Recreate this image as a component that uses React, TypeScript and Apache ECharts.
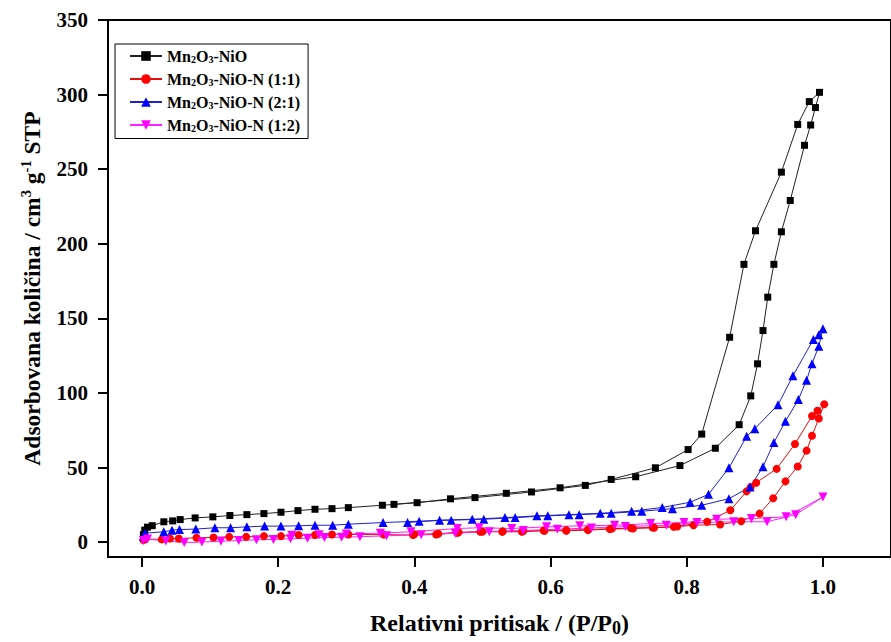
import React, { useEffect, useRef } from 'react';
import * as echarts from 'echarts';

const FONT = "'Liberation Serif', 'Times New Roman', serif";

const seriesNames = ['Mn2O3-NiO', 'Mn2O3-NiO-N (1:1)', 'Mn2O3-NiO-N (2:1)', 'Mn2O3-NiO-N (1:2)'];
const xTicks = [0, 0.2, 0.4, 0.6, 0.8, 1.0];
const yTicks = [0, 50, 100, 150, 200, 250, 300, 350];

// Mn2O3-NiO (adsorption then desorption)
const blackAds = [[0.002,5],[0.004,8],[0.008,10],[0.015,11],[0.032,13.6],[0.045,14.2],[0.056,15.1],[0.078,16.2],[0.104,16.9],[0.129,17.8],[0.154,18.4],[0.179,19.1],[0.204,20],[0.229,21.1],[0.254,22],[0.279,22.4],[0.303,23.1],[0.353,24.7],[0.404,26.4],[0.453,29],[0.535,32.7],[0.614,36.4],[0.725,43.8],[0.79,51.3],[0.842,62.9],[0.877,78.7],[0.894,98],[0.904,119.5],[0.912,141.8],[0.919,164.2],[0.928,186.2],[0.939,208],[0.952,229],[0.973,266],[0.982,279.6],[0.989,291.3],[0.995,301.5]];
const blackDes = [[0.98,295.3],[0.963,280],[0.939,248],[0.901,208.7],[0.884,186.2],[0.863,137.3],[0.822,72.4],[0.802,62],[0.754,49.8],[0.689,42],[0.651,38],[0.572,33.6],[0.489,29.8],[0.37,25.3]];

// Mn2O3-NiO-N (1:1)
const redAds = [[0.002,1.3],[0.005,2],[0.029,1.8],[0.041,2.4],[0.054,2.4],[0.08,2.9],[0.105,3.1],[0.128,3.5],[0.153,3.5],[0.179,4],[0.204,4],[0.23,4.7],[0.254,4.7],[0.279,5.1],[0.303,5.1],[0.355,5],[0.398,4.7],[0.432,5.1],[0.463,6.2],[0.497,6.9],[0.529,6.9],[0.558,6.9],[0.591,7.6],[0.623,7.6],[0.655,8],[0.687,8.7],[0.721,9.1],[0.752,9.6],[0.781,10.2],[0.81,11.3],[0.849,11.8],[0.88,14],[0.907,19.1],[0.927,29.4],[0.945,40.7],[0.963,50.7],[0.976,61.3],[0.984,71.3],[0.994,82.9],[1.002,92.4]];
const redDes = [[0.992,88],[0.984,84.5],[0.959,65.8],[0.932,49.1],[0.902,39.8],[0.894,36.9],[0.888,34],[0.864,21.3],[0.83,13.6],[0.786,10.5],[0.75,9.8],[0.718,9.4],[0.69,9],[0.655,8.4],[0.623,8],[0.59,7.8],[0.56,7.4],[0.53,7.2],[0.5,7],[0.465,6.6],[0.435,5.6],[0.4,5.2]];

// Mn2O3-NiO-N (2:1)
const blueAds = [[0.002,4],[0.005,6],[0.032,6.9],[0.044,8],[0.055,8.4],[0.079,8.7],[0.107,9.6],[0.13,9.6],[0.154,10.2],[0.18,10.7],[0.204,10.7],[0.23,10.9],[0.254,11.3],[0.28,11.3],[0.303,12],[0.354,13.1],[0.407,14],[0.454,14.7],[0.502,15.3],[0.548,16.4],[0.596,17.6],[0.642,18.4],[0.689,19.3],[0.734,20.7],[0.779,22.4],[0.822,24.7],[0.862,29.1],[0.893,36.9],[0.912,50.5],[0.928,66.7],[0.945,81],[0.964,95.6],[0.976,108.5],[0.984,119.6],[0.994,131.3],[1.0,143]];
const blueDes = [[0.994,139],[0.986,135.8],[0.956,111.5],[0.934,92],[0.9,76],[0.888,70.9],[0.862,49.8],[0.832,32],[0.805,26.7],[0.764,23.2],[0.719,20.7],[0.673,19.3],[0.627,18.4],[0.58,17.6],[0.533,16.4],[0.485,15.3],[0.437,14.7],[0.39,13.1]];

// Mn2O3-NiO-N (1:2)
const magAds = [[0.002,1],[0.008,2],[0.035,0.8],[0.062,-0.3],[0.088,0],[0.116,0.6],[0.142,1],[0.168,1.5],[0.193,1.8],[0.218,2.2],[0.243,2.6],[0.268,3],[0.293,3.3],[0.32,3.6],[0.359,4.2],[0.41,5],[0.46,6],[0.51,7],[0.56,7.8],[0.61,8.6],[0.66,9.5],[0.71,10.4],[0.77,11.3],[0.815,13.1],[0.869,13.6],[0.918,13.6],[0.96,18.4],[1.0,30.2]];
const magDes = [[0.946,16.9],[0.895,15.8],[0.844,15.3],[0.796,13.1],[0.747,12.4],[0.694,11.3],[0.643,10.9],[0.594,10.2],[0.543,9.1],[0.495,9.6],[0.463,9.1],[0.395,6.9],[0.35,6],[0.3,5.4],[0.26,5],[0.22,4.5]];

const colors = ['#000000', '#ff0000', '#0000ff', '#ff00ff'];
const lineColors = ['#222222', '#e01010', '#2020d0', '#ff20ff'];
const symbols = ['rect', 'circle', 'triangle', 'triangle'];
const symbolSizes = [7, 8, 9, 9];
const symbolRotates = [0, 0, 0, 180];
const dataSets = [
  [...blackAds, ...blackDes],
  [...redAds, ...redDes],
  [...blueAds, ...blueDes],
  [...magAds, ...magDes],
];

function legendLabel(name: string): string {
  return '{b|Mn}{s|2}{b|O}{s|3}{b|' + name.slice(5) + '}';
}

export default function App() {
  const ref = useRef<HTMLDivElement>(null);
  useEffect(() => {
    const chart = echarts.init(ref.current!, null, { renderer: 'svg' });
    const axisLabelStyle = {
      fontSize: 21,
      fontWeight: 'bold' as const,
      fontFamily: FONT,
      color: '#000',
    };
    chart.setOption({
      animation: false,
      backgroundColor: '#ffffff',
      grid: {
        left: 108,
        top: 20,
        width: 788,
        height: 542,
        show: true,
        borderColor: '#000',
        borderWidth: 2,
        backgroundColor: 'transparent',
      },
      legend: {
        left: 115,
        top: 44,
        orient: 'vertical',
        padding: [4, 8, 5, 14],
        borderColor: '#000',
        borderWidth: 1,
        itemWidth: 32,
        itemHeight: 12,
        itemGap: 6.5,
        data: seriesNames,
        formatter: (name: string) => legendLabel(name),
        textStyle: {
          rich: {
            b: { fontSize: 16, fontWeight: 'bold', fontFamily: FONT, color: '#000', lineHeight: 17 },
            s: { fontSize: 10, fontWeight: 'bold', fontFamily: FONT, color: '#000', lineHeight: 10, verticalAlign: 'bottom' },
          },
        },
      },
      xAxis: {
        type: 'value',
        min: -0.05,
        max: 1.1,
        name: '{t|Relativni pritisak / (P/P}{u|0}{t|)}',
        nameLocation: 'middle',
        nameGap: 52,
        nameTextStyle: {
          rich: {
            t: { fontSize: 24, fontWeight: 'bold', fontFamily: FONT, color: '#000', lineHeight: 28 },
            u: { fontSize: 18, fontWeight: 'bold', fontFamily: FONT, color: '#000', lineHeight: 21, verticalAlign: 'bottom' },
          },
        },
        axisLine: { show: true, onZero: false, lineStyle: { color: '#000', width: 2 } },
        axisTick: { show: true, length: 10, customValues: xTicks, lineStyle: { color: '#000', width: 2 } },
        axisLabel: { ...axisLabelStyle, margin: 19, customValues: xTicks, formatter: (v: number) => v.toFixed(1) },
        splitLine: { show: false },
      },
      yAxis: {
        type: 'value',
        min: -10,
        max: 350,
        name: '{t|Adsorbovana količina / cm}{p|3}{t| g}{p|-1}{t| STP}',
        nameLocation: 'middle',
        nameGap: 63,
        nameRotate: 90,
        nameTextStyle: {
          rich: {
            t: { fontSize: 23.5, fontWeight: 'bold', fontFamily: FONT, color: '#000', lineHeight: 27 },
            p: { fontSize: 14.5, fontWeight: 'bold', fontFamily: FONT, color: '#000', lineHeight: 15, verticalAlign: 'top' },
          },
        },
        axisLine: { show: true, onZero: false, lineStyle: { color: '#000', width: 2 } },
        axisTick: { show: true, length: 10, customValues: yTicks, lineStyle: { color: '#000', width: 2 } },
        axisLabel: { ...axisLabelStyle, margin: 20, customValues: yTicks },
        splitLine: { show: false },
      },
      series: seriesNames.map((name, i) => ({
        name,
        type: 'line',
        data: dataSets[i],
        symbol: symbols[i],
        symbolSize: symbolSizes[i],
        symbolRotate: symbolRotates[i],
        showAllSymbol: true,
        itemStyle: { color: colors[i] },
        lineStyle: { color: lineColors[i], width: 1 },
        emphasis: { disabled: true },
      })),
    });
    return () => chart.dispose();
  }, []);
  return (
    <div
      ref={ref}
      style={{ position: 'fixed', left: 0, top: 0, width: 891, height: 642, background: '#fff' }}
    />
  );
}
